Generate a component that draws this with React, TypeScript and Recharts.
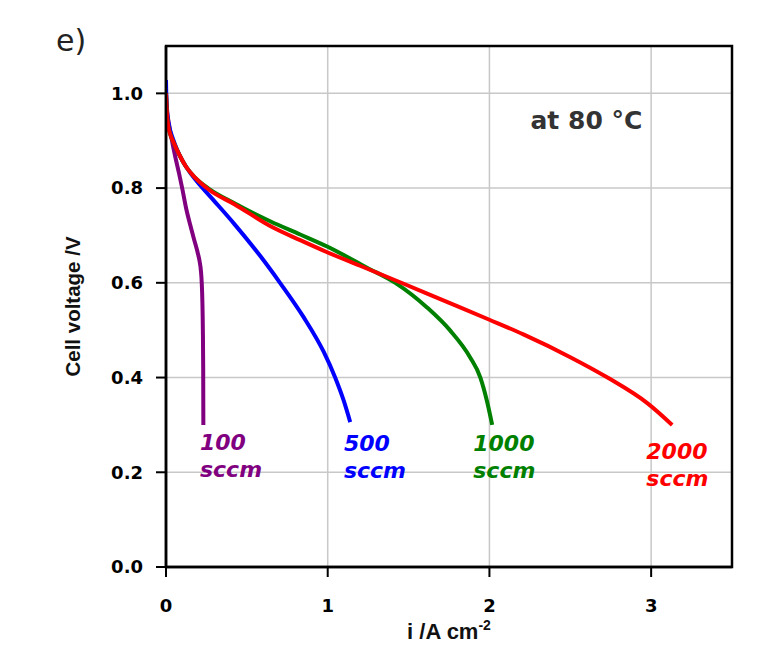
import React from 'react';
import {
  LineChart, Line, XAxis, YAxis, CartesianGrid, ReferenceArea, ReferenceDot, Label,
} from 'recharts';

// ---- data ----
const i100 = [0, 0.008, 0.02, 0.041, 0.06, 0.08, 0.1, 0.124, 0.15, 0.175, 0.195, 0.208, 0.216, 0.221, 0.225, 0.228, 0.23, 0.231];
const v100 = [1.0, 0.96, 0.932, 0.893, 0.862, 0.832, 0.8, 0.758, 0.722, 0.69, 0.665, 0.645, 0.625, 0.6, 0.56, 0.5, 0.42, 0.3];

const i500 = [0, 0.003, 0.01, 0.02, 0.041, 0.07, 0.103, 0.15, 0.206, 0.3, 0.423, 0.582, 0.705, 0.85, 0.974, 1.046, 1.1, 1.139];
const v500 = [1.028, 0.98, 0.95, 0.93, 0.906, 0.88, 0.857, 0.832, 0.808, 0.772, 0.724, 0.657, 0.6, 0.528, 0.455, 0.4, 0.35, 0.306];

const i1000 = [0, 0.005, 0.012, 0.025, 0.045, 0.08, 0.124, 0.18, 0.268, 0.423, 0.644, 0.83, 1.0, 1.243, 1.418, 1.614, 1.758, 1.88, 1.944, 1.985, 2.017];
const v1000 = [1.0, 0.96, 0.935, 0.915, 0.898, 0.872, 0.845, 0.822, 0.798, 0.768, 0.73, 0.702, 0.676, 0.632, 0.6, 0.548, 0.499, 0.443, 0.4, 0.35, 0.3];

const i2000 = [0, 0.005, 0.012, 0.025, 0.045, 0.08, 0.124, 0.18, 0.268, 0.423, 0.644, 0.83, 1.0, 1.2, 1.47, 1.7, 2.0, 2.21, 2.5, 2.73, 2.98, 3.13];
const v2000 = [1.0, 0.96, 0.935, 0.915, 0.898, 0.872, 0.845, 0.822, 0.796, 0.766, 0.72, 0.69, 0.664, 0.636, 0.598, 0.565, 0.522, 0.491, 0.443, 0.4, 0.345, 0.3];

const seriesNames = ['100', '500', '1000', '2000'];
const seriesColors = ['#800080', '#0000ff', '#008000', '#ff0000'];
const labelI = [0.21, 1.1, 1.9, 2.97];
const labelV = [0.248, 0.244, 0.244, 0.229];

const xTicks = [0, 1, 2, 3];
const yTicks = [0, 0.2, 0.4, 0.6, 0.8, 1.0];

const build = (xs: number[], ys: number[]) => xs.map((x, k) => ({ i: x, v: ys[k] }));
const series = [build(i100, v100), build(i500, v500), build(i1000, v1000), build(i2000, v2000)];

const FONT = '"DejaVu Sans", sans-serif';
const ARIAL = '"Liberation Sans", Arial, sans-serif';

const SeriesLabel = (name: string, color: string) => (props: any) => {
  const { viewBox } = props;
  const x = viewBox.x;
  const y = viewBox.y;
  return (
    <text x={x} y={y} fill={color} fontFamily={FONT} fontSize={22} fontWeight="bold" fontStyle="italic">
      <tspan x={x} dy={0}>{name}</tspan>
      <tspan x={x} dy={27}>sccm</tspan>
    </text>
  );
};

export default function App() {
  return (
    <div style={{ position: 'relative', width: 760, height: 651 }}>
      <LineChart
        width={760}
        height={651}
        margin={{ top: 38, right: 36, bottom: 32, left: 78 }}
      >
        <CartesianGrid stroke="#c8c8c8" strokeWidth={1.5} vertical horizontal />
        <XAxis
          type="number"
          dataKey="i"
          domain={[0, 3.5]}
          ticks={xTicks}
          allowDataOverflow
          height={60}
          tickSize={10}
          tickMargin={22}
          axisLine={{ stroke: '#000', strokeWidth: 2.5 }}
          tickLine={{ stroke: '#000', strokeWidth: 2 }}
          tick={{ fill: '#000', fontFamily: FONT, fontSize: 18, fontWeight: 'bold' }}
        >
          <Label
            content={(p: any) => {
              const vb = p.viewBox;
              const cx = vb.x + vb.width / 2;
              return (
                <text x={cx} y={vb.y + 72} textAnchor="middle" fill="#111" fontFamily={ARIAL} fontSize={22} fontWeight="bold">
                  i /A cm<tspan dy={-9} fontSize={14}>-2</tspan>
                </text>
              );
            }}
          />
        </XAxis>
        <YAxis
          type="number"
          domain={[0, 1.1]}
          ticks={yTicks}
          allowDataOverflow
          width={80}
          tickSize={10}
          tickMargin={13}
          tickFormatter={(v: number) => v.toFixed(1)}
          axisLine={{ stroke: '#000', strokeWidth: 2.5 }}
          tickLine={{ stroke: '#000', strokeWidth: 2 }}
          tick={{ fill: '#000', fontFamily: FONT, fontSize: 18, fontWeight: 'bold' }}
        >
          <Label
            content={(p: any) => {
              const vb = p.viewBox;
              const cx = vb.x - 14;
              const cy = vb.y + vb.height / 2;
              return (
                <text x={cx} y={cy} transform={`rotate(-90 ${cx} ${cy})`} textAnchor="middle" dominantBaseline="central" fill="#111" fontFamily={ARIAL} fontSize={20.5} fontWeight="bold">
                  Cell voltage /V
                </text>
              );
            }}
          />
        </YAxis>
        <ReferenceArea x1={0} x2={3.5} y1={0} y2={1.1} fill="none" stroke="#000" strokeWidth={2.5} ifOverflow="visible" />
        {series.map((d, k) => (
          <Line
            key={seriesNames[k]}
            data={d}
            dataKey="v"
            type="monotoneX"
            stroke={seriesColors[k]}
            strokeWidth={4}
            dot={false}
            isAnimationActive={false}
          />
        ))}
        {seriesNames.map((n, k) => (
          <ReferenceDot
            key={'lbl' + n}
            x={labelI[k]}
            y={labelV[k]}
            r={0}
            fill="none"
            stroke="none"
            ifOverflow="visible"
            label={SeriesLabel(n, seriesColors[k])}
          />
        ))}
        <ReferenceDot
          x={2.254}
          y={0.924}
          r={0}
          fill="none"
          stroke="none"
          ifOverflow="visible"
          label={(p: any) => (
            <text x={p.viewBox.x} y={p.viewBox.y} fill="#333" fontFamily={FONT} fontSize={25} fontWeight="bold">
              at 80 °C
            </text>
          )}
        />
      </LineChart>
      <svg style={{ position: 'absolute', left: 0, top: 0, pointerEvents: 'none' }} width={760} height={651}>
        <text x={48} y={43} fill="#222" fontFamily={FONT} fontSize={30}>e)</text>
      </svg>
    </div>
  );
}
